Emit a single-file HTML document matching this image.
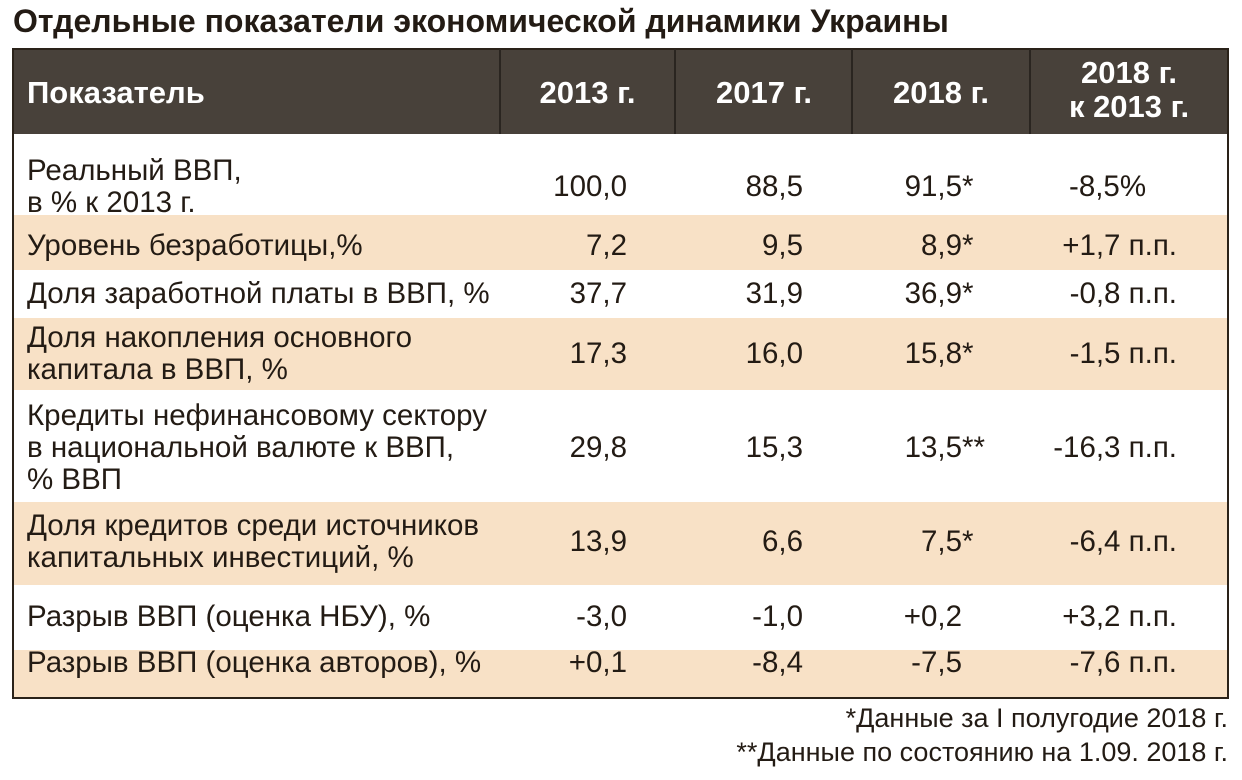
<!DOCTYPE html>
<html><head><meta charset="utf-8"><style>
body{margin:0;width:1242px;height:780px;background:#fff;position:relative;overflow:hidden;font-family:"Liberation Sans","Noto Sans CJK SC",sans-serif;color:#231b14}
.a{position:absolute;white-space:nowrap}
.t{font-size:29.5px;line-height:32px}
.h{font-size:31px;font-weight:bold;color:#fff;line-height:34px}
.r{text-align:right}
.bg{position:absolute;left:13px;width:1214px}
</style></head><body>
<div class="a" style="left:13px;top:2px;font-size:32px;font-weight:bold;line-height:38px">Отдельные показатели экономической динамики Украины</div>
<div class="bg" style="top:49px;height:85px;background:#48413a"></div>
<div class="bg" style="top:215px;height:55px;background:#f8e1c6"></div>
<div class="bg" style="top:318px;height:72px;background:#f8e1c6"></div>
<div class="bg" style="top:502px;height:83px;background:#f8e1c6"></div>
<div class="bg" style="top:650px;height:47px;background:#f8e1c6"></div>
<div class="a" style="left:12px;top:48px;width:1213px;height:647px;border:2px solid #2a2219"></div>
<div class="a" style="left:499px;top:49px;width:2px;height:85px;background:#2a2520"></div>
<div class="a" style="left:674px;top:49px;width:2px;height:85px;background:#2a2520"></div>
<div class="a" style="left:851px;top:49px;width:2px;height:85px;background:#2a2520"></div>
<div class="a" style="left:1029px;top:49px;width:2px;height:85px;background:#2a2520"></div>
<div class="a h" style="left:27px;top:76px">Показатель</div>
<div class="a h" style="left:500px;width:175px;text-align:center;top:76px">2013 г.</div>
<div class="a h" style="left:676px;width:176px;text-align:center;top:76px">2017 г.</div>
<div class="a h" style="left:853px;width:176px;text-align:center;top:76px">2018 г.</div>
<div class="a h" style="left:1031px;width:196px;text-align:center;top:56px">2018 г.<br>к 2013 г.</div>
<div id="rows"></div>
<div class="a t r" style="right:14px;top:702px;font-size:27px">*Данные за I полугодие 2018 г.</div>
<div class="a t r" style="right:14px;top:736px;font-size:27px">**Данные по состоянию на 1.09. 2018 г.</div>
<script>
const labels=[["Реальный ВВП,","в % к 2013 г."],["Уровень безработицы,%"],["Доля заработной платы в ВВП, %"],["Доля накопления основного","капитала в ВВП, %"],["Кредиты нефинансовому сектору","в национальной валюте к ВВП,","% ВВП"],["Доля  кредитов среди источников","капитальных инвестиций, %"],["Разрыв ВВП (оценка НБУ), %"],["Разрыв ВВП (оценка авторов), %"]];
const v2013=["100,0","7,2","37,7","17,3","29,8","13,9","-3,0","+0,1"];
const v2017=["88,5","9,5","31,9","16,0","15,3","6,6","-1,0","-8,4"];
const v2018=["91,5","8,9","36,9","15,8","13,5","7,5","+0,2","-7,5"];
const marks=["*","*","*","*","**","*","",""];
const vChange=["-8,5%","+1,7 п.п.","-0,8 п.п.","-1,5 п.п.","-16,3 п.п.","-6,4 п.п.","+3,2 п.п.","-7,6 п.п."];
const centers=[187,246,294,354,448,542,617,663];
const root=document.getElementById('rows');
function add(name,html,style){const d=document.createElement('div');d.className='a t';d.innerHTML=html;d.style.cssText=style;


root.appendChild(d);}
labels.forEach((l,i)=>{const c=centers[i];
add('row-label',l.join('<br>'),`left:27px;top:${c-16*l.length}px`);
add('value-2013',v2013[i],`right:${1242-627}px;top:${c-16}px`);
add('value-2017',v2017[i],`right:${1242-803}px;top:${c-16}px`);
add('value-2018',v2018[i]+'<span style="position:absolute;left:100%">'+marks[i]+'</span>',`right:${1242-962}px;top:${c-16}px`);
if(i===0) add('value-change',vChange[i],`left:1069px;top:${c-16}px`);
else add('value-change',vChange[i],`right:${1242-1177}px;top:${c-16}px`);
});
</script>
</body></html>
